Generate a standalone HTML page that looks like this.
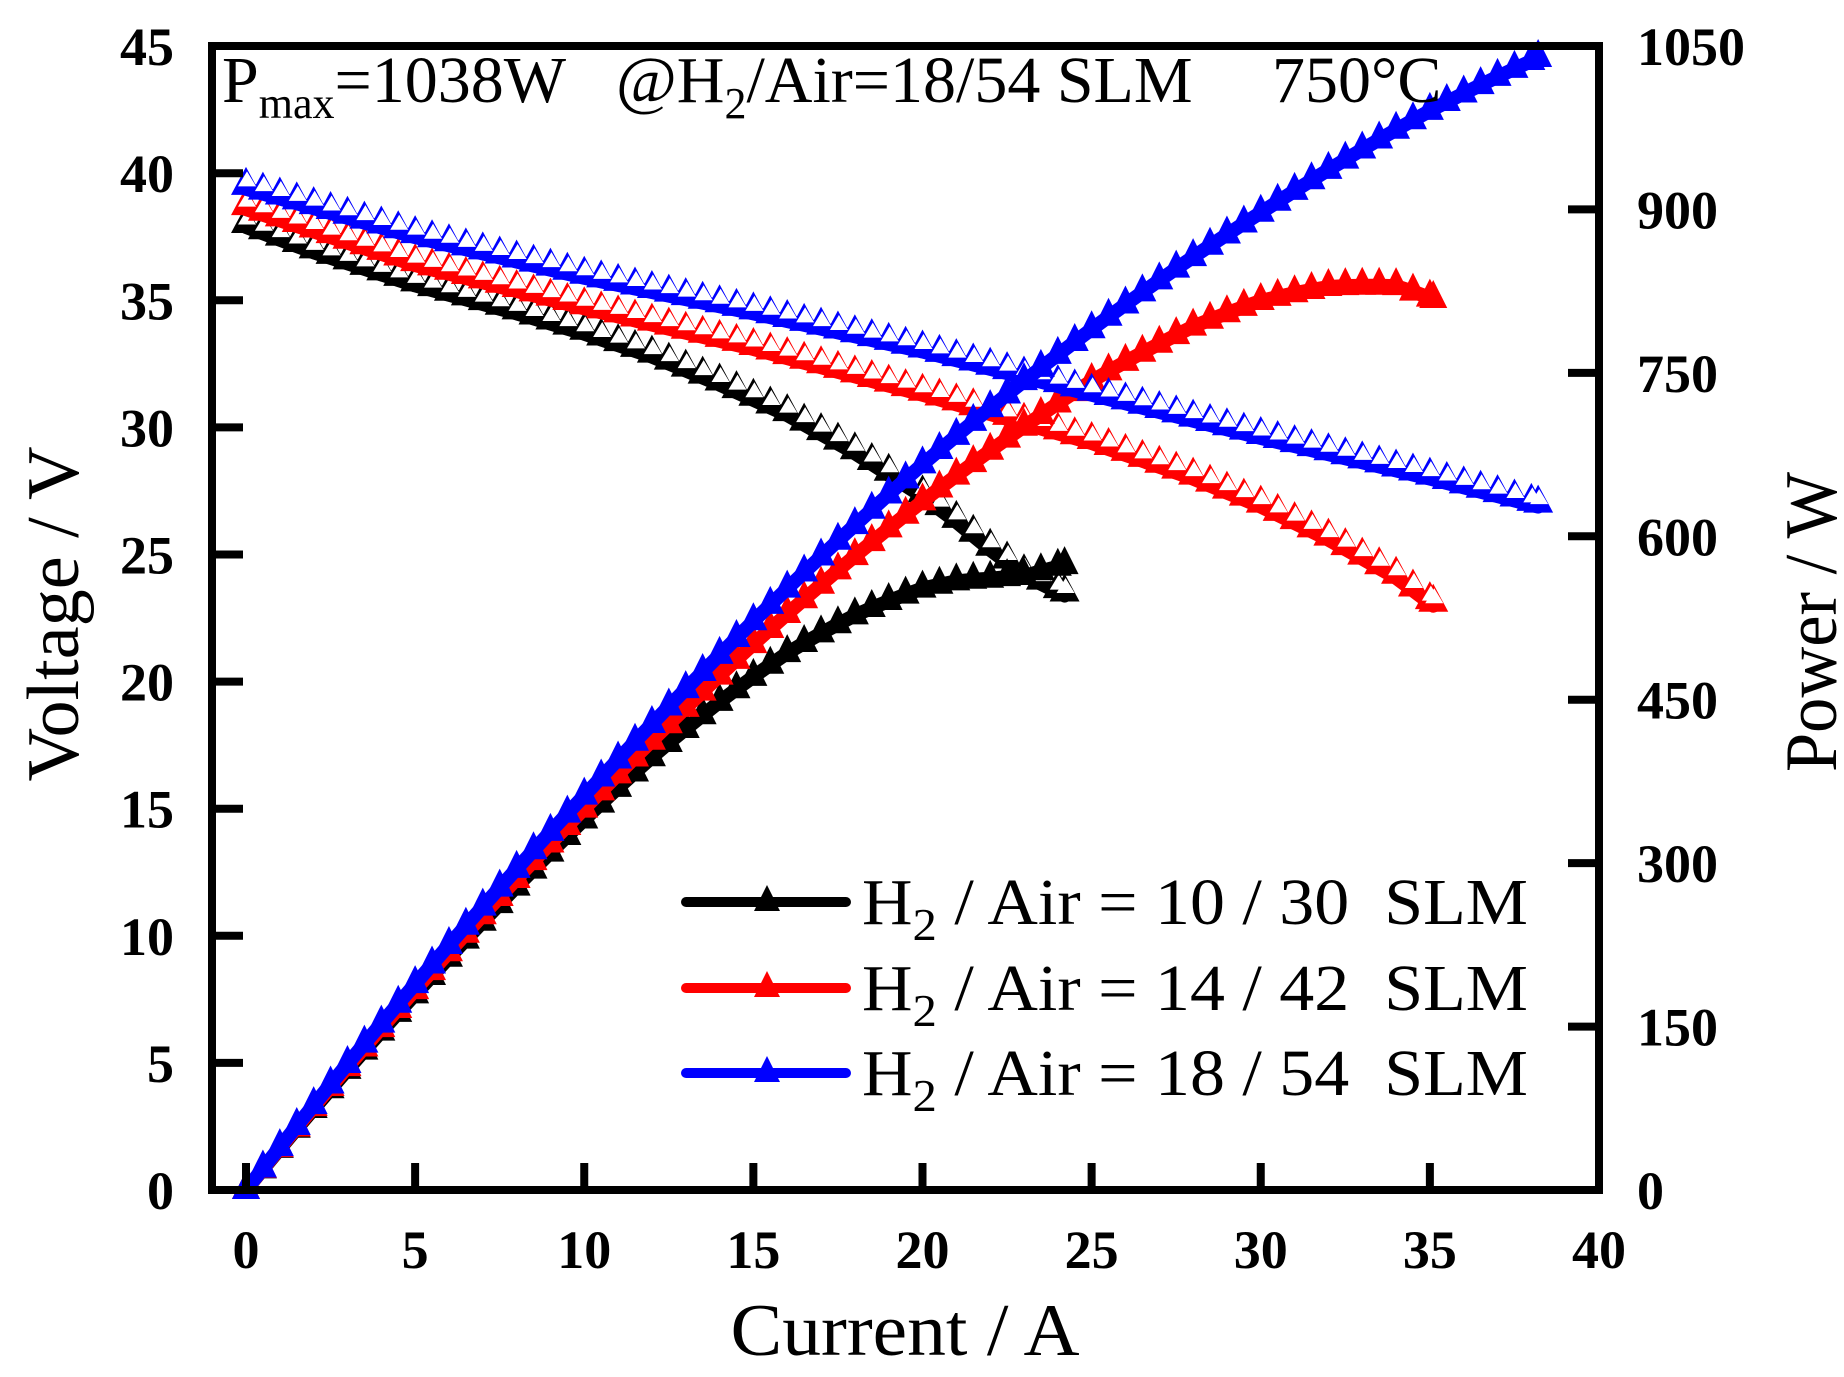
<!DOCTYPE html>
<html><head><meta charset="utf-8"><style>html,body{margin:0;padding:0;background:#fff}svg{display:block}svg text{white-space:pre}</style></head>
<body>
<svg id="s" width="1844" height="1377" viewBox="0 0 1844 1377" xmlns="http://www.w3.org/2000/svg" font-family="Liberation Serif, serif">
<g id="data"></g>
<g stroke="#000" stroke-width="8" fill="none">
<rect x="212" y="46" width="1387" height="1144"/>
</g>
<g id="ticks" stroke="#000" stroke-width="8"></g>
<g id="labels" font-weight="bold" font-size="54" fill="#000"></g>
<text x="222" y="102" font-size="66" fill="#000">P<tspan font-size="44" dy="16">max</tspan><tspan dy="-16">=1038W</tspan></text>
<text x="616" y="102" font-size="66" fill="#000">@H<tspan font-size="44" dy="16">2</tspan><tspan dy="-16">/Air=18/54 SLM</tspan></text>
<text x="1272" y="102" font-size="66" fill="#000">750°C</text>
<text x="905" y="1355" font-size="74" text-anchor="middle" textLength="349" lengthAdjust="spacingAndGlyphs">Current / A</text>
<text transform="translate(78,614) rotate(-90)" font-size="74" text-anchor="middle" textLength="335" lengthAdjust="spacingAndGlyphs">Voltage / V</text>
<text transform="translate(1836,622) rotate(-90)" font-size="74" text-anchor="middle" textLength="300" lengthAdjust="spacingAndGlyphs">Power / W</text>
<g id="legend"></g>
</svg>
<script>
const NS="http://www.w3.org/2000/svg";
function el(p,t,a,txt){const e=document.createElementNS(NS,t);for(const k in a)e.setAttribute(k,a[k]);if(txt!==undefined)e.textContent=txt;p.appendChild(e);return e;}
const X=i=>246+i*33.825, YV=v=>1190-v*25.42, YP=p=>1190-p*(1144/1050);
const ticks=document.getElementById('ticks'),labels=document.getElementById('labels');
for(let i=0;i<=40;i+=5){const x=X(i);if(i<40)el(ticks,'line',{x1:x,y1:1190,x2:x,y2:1163});el(labels,'text',{x:x,y:1268,'text-anchor':'middle'},String(i));}
for(let v=0;v<=45;v+=5){const y=YV(v);if(v>0&&v<45)el(ticks,'line',{x1:212,y1:y,x2:243,y2:y});el(labels,'text',{x:174,y:y+19,'text-anchor':'end'},String(v));}
for(let p=0;p<=1050;p+=150){const y=YP(p);if(p>0&&p<1050)el(ticks,'line',{x1:1599,y1:y,x2:1568,y2:y});el(labels,'text',{x:1637,y:y+19},String(p));}
const curves=[
 {c:'#000',end:24.2,k:[[0,38.2],[2,37.2],[5,35.9],[8,34.8],[10,34.0],[12,33.1],[14,32.0],[16,30.8],[18,29.3],[20,27.6],[21,26.6],[22,25.5],[23,24.5],[24.2,23.7]]},
 {c:'#f00',end:35.1,k:[[0,38.9],[5,36.7],[10,35.0],[15,33.4],[20,31.6],[25,29.7],[28,28.3],[30,27.2],[32,25.9],[34,24.4],[35.1,23.3]]},
 {c:'#00f',end:38.2,k:[[0,39.7],[5,37.8],[10,36.2],[15,34.8],[20,33.3],[25,31.6],[30,29.9],[35,28.3],[38.2,27.2]]}];
function interp(k,x){for(let j=1;j<k.length;j++){if(x<=k[j][0]+1e-9){const a=k[j-1],b=k[j];return a[1]+(b[1]-a[1])*(x-a[0])/(b[0]-a[0]);}}return k[k.length-1][1];}
function tri(cx,cy,w,h){return `${cx-w/2},${cy+h/2} ${cx},${cy-h/2} ${cx+w/2},${cy+h/2}`;}
const data=document.getElementById('data');
curves.forEach(cv=>{
 const pts=[];for(let i=0;i<=cv.end+1e-6;i+=0.5)pts.push(i);if(pts[pts.length-1]<cv.end-0.05)pts.push(cv.end);
 const vp=pts.map(i=>[X(i),YV(interp(cv.k,i))]);
 const pp=pts.map(i=>[X(i),YP(i*interp(cv.k,i))]);
 el(data,'polyline',{points:vp.map(p=>[p[0],p[1]+8].join(',')).join(' '),fill:'none',stroke:cv.c,'stroke-width':14,'stroke-linejoin':'round','stroke-linecap':'round'});
 vp.forEach(p=>el(data,'polygon',{points:tri(p[0],p[1],30,28),fill:cv.c}));
 vp.forEach(p=>el(data,'polygon',{points:tri(p[0]+1,p[1]-2,18,15),fill:'#fff'}));
 el(data,'polyline',{points:pp.map(p=>p.join(',')).join(' '),fill:'none',stroke:cv.c,'stroke-width':14,'stroke-linejoin':'round'});
 pp.forEach(p=>el(data,'polygon',{points:tri(p[0],p[1]-5,28,28),fill:cv.c}));
});
const lg=document.getElementById('legend');
[['#000','10 / 30',902],['#f00','14 / 42',988],['#00f','18 / 54',1073]].forEach(([c,t,y])=>{
 el(lg,'line',{x1:686,y1:y,x2:846,y2:y,stroke:c,'stroke-width':10,'stroke-linecap':'round'});
 el(lg,'polygon',{points:tri(767,y-4,26,26),fill:c});
 const tx=el(lg,'text',{x:862,y:y+22,'font-size':66,fill:'#000',textLength:666,lengthAdjust:'spacingAndGlyphs'});
 tx.appendChild(document.createTextNode('H'));
 el(tx,'tspan',{'font-size':46,dy:16},'2');
 el(tx,'tspan',{dy:-16},' / Air = '+t+'  SLM');
});
</script>
</body></html>
